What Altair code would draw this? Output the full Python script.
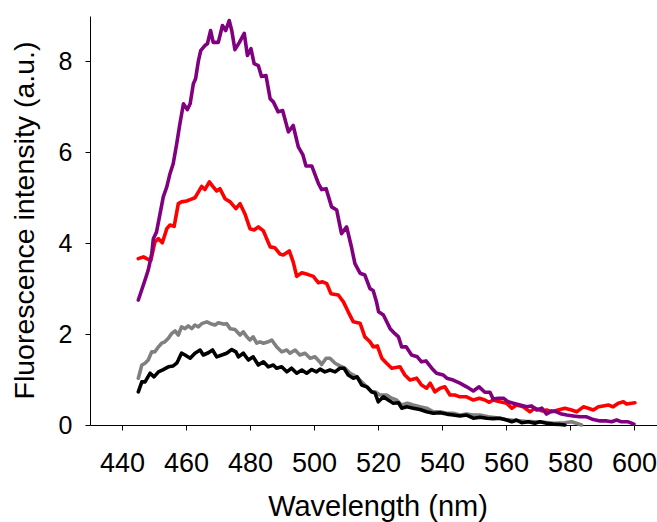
import altair as alt
import pandas as pd

# ---- data (wavelength nm, intensity a.u.) ----
purple_x = [445.1, 447.2, 448.2, 449.3, 449.8, 450.8, 451.9, 452.9, 454.0, 455.0, 456.0, 457.1, 458.1, 459.2,
            460.4, 461.3, 462.3, 463.0, 463.9, 464.6, 465.9, 466.7, 467.7, 468.5, 470.1, 471.4, 472.4, 473.5,
            474.3, 475.3, 476.7, 478.2, 479.2, 480.3, 481.3, 482.6, 483.6, 485.0, 486.3, 487.3, 488.8, 490.2,
            492.0, 493.5, 495.1, 496.5, 497.5, 499.3, 501.4, 502.4, 503.8, 505.5, 507.1, 508.6, 510.2, 511.6,
            512.8, 514.4, 515.9, 517.5, 518.5, 519.5, 520.2, 521.7, 523.8, 525.3, 526.4, 527.4, 528.8, 530.5,
            532.3, 533.6, 535.0, 536.8, 538.3, 540.4, 541.5, 543.5, 545.6, 547.7, 549.8, 551.6, 553.4, 555.0,
            556.0, 557.6, 559.2, 560.7, 562.3, 564.4, 566.5, 568.0, 569.6, 571.2, 572.7, 574.3, 575.8, 577.4,
            579.0, 581.0, 583.1, 585.2, 587.3, 589.4, 591.5, 593.0, 594.6, 596.1, 598.2, 600.0]
purple_y = [2.75, 3.19, 3.41, 3.77, 4.10, 4.25, 4.65, 5.02, 5.24, 5.53, 5.75, 6.19, 6.63, 7.07,
            6.94, 7.07, 7.51, 7.62, 8.02, 8.24, 8.35, 8.39, 8.68, 8.42, 8.42, 8.79, 8.68, 8.90,
            8.68, 8.26, 8.42, 8.62, 8.13, 8.28, 7.95, 7.91, 7.67, 7.69, 7.18, 7.11, 6.89, 6.92,
            6.45, 6.59, 6.12, 5.95, 5.70, 5.70, 5.31, 5.18, 5.20, 4.80, 4.73, 4.21, 4.36, 3.95,
            3.55, 3.34, 3.30, 3.00, 2.96, 2.72, 2.49, 2.42, 2.12, 2.01, 1.94, 1.72, 1.72, 1.54,
            1.50, 1.39, 1.41, 1.25, 1.14, 1.10, 1.03, 0.99, 0.92, 0.84, 0.75, 0.84, 0.72, 0.72,
            0.57, 0.59, 0.59, 0.51, 0.48, 0.44, 0.40, 0.42, 0.33, 0.37, 0.24, 0.31, 0.29, 0.24,
            0.22, 0.20, 0.18, 0.18, 0.12, 0.09, 0.09, 0.07, 0.11, 0.07, 0.07, 0.02]

red_x = [445.1, 446.7, 447.7, 449.0, 450.3, 451.4, 452.6, 454.0, 455.0, 456.3, 457.6, 458.6, 460.2, 461.3,
         462.8, 463.9, 464.9, 465.9, 467.3, 468.5, 469.6, 470.6, 472.2, 473.8, 475.6, 476.9, 478.4, 480.0,
         481.3, 482.6, 484.2, 486.3, 487.8, 489.4, 490.4, 492.3, 493.5, 494.6, 496.2, 498.2, 499.8, 501.4,
         502.7, 504.0, 505.3, 507.6, 509.2, 510.7, 512.3, 514.4, 515.9, 517.5, 518.5, 519.8, 521.2, 522.7,
         524.3, 526.9, 528.4, 530.0, 532.1, 533.6, 535.2, 536.3, 537.8, 539.4, 540.9, 542.5, 544.0, 545.6,
         547.7, 549.8, 551.7, 553.4, 554.8, 556.0, 558.1, 560.2, 561.8, 563.3, 565.4, 567.5, 569.0, 571.2,
         572.7, 574.3, 576.3, 578.4, 580.5, 582.1, 584.2, 585.7, 587.3, 588.9, 590.4, 592.0, 593.5, 595.1,
         596.7, 597.7, 600.3]
red_y = [3.66, 3.70, 3.66, 3.62, 4.03, 4.10, 4.01, 4.32, 4.40, 4.37, 4.87, 4.91, 4.93, 4.96,
         5.00, 5.13, 5.25, 5.18, 5.35, 5.24, 5.15, 5.20, 4.98, 4.91, 4.76, 4.87, 4.65, 4.32,
         4.29, 4.36, 4.27, 3.92, 3.90, 3.76, 3.74, 3.83, 3.59, 3.27, 3.35, 3.31, 3.27, 3.13,
         3.15, 3.11, 2.89, 2.86, 2.71, 2.49, 2.27, 2.24, 1.94, 1.83, 1.72, 1.74, 1.47, 1.36,
         1.25, 1.28, 1.10, 0.99, 1.03, 0.88, 0.81, 0.92, 0.73, 0.81, 0.84, 0.66, 0.66, 0.62,
         0.62, 0.55, 0.59, 0.55, 0.50, 0.55, 0.51, 0.48, 0.37, 0.44, 0.40, 0.29, 0.37, 0.31,
         0.33, 0.29, 0.33, 0.37, 0.33, 0.29, 0.40, 0.37, 0.33, 0.40, 0.42, 0.44, 0.40, 0.48,
         0.51, 0.46, 0.49]

gray_x = [445.1, 446.2, 447.2, 448.2, 449.3, 450.3, 451.4, 452.4, 453.4, 454.5, 455.5, 456.6, 457.6, 458.6,
          459.7, 460.7, 461.8, 462.8, 463.9, 464.9, 466.5, 467.7, 469.1, 470.1, 471.7, 472.7, 473.8, 475.3,
          476.9, 477.9, 479.0, 480.0, 481.0, 482.1, 483.1, 484.2, 485.7, 486.8, 488.3, 489.9, 491.5, 492.5,
          494.1, 495.6, 497.2, 498.8, 500.3, 501.9, 502.4, 503.8, 505.0, 506.6, 508.1, 509.7, 511.3, 513.3,
          514.9, 516.5, 518.0, 519.1, 520.6, 522.7, 524.3, 525.8, 527.4, 529.2, 531.0, 533.1, 535.2, 537.3,
          539.4, 541.5, 543.5, 545.6, 547.7, 549.8, 551.9, 554.5, 557.0, 560.0, 563.0, 566.0, 569.0, 572.0,
          575.0, 578.4, 580.5, 582.0, 583.6]
gray_y = [1.03, 1.32, 1.36, 1.43, 1.61, 1.61, 1.72, 1.80, 1.83, 1.91, 2.01, 2.07, 1.98, 2.16,
          2.12, 2.18, 2.12, 2.20, 2.16, 2.23, 2.27, 2.23, 2.20, 2.25, 2.22, 2.23, 2.12, 2.10,
          1.98, 2.05, 1.94, 1.87, 1.94, 1.80, 1.83, 1.80, 1.83, 1.87, 1.72, 1.61, 1.65, 1.58,
          1.65, 1.54, 1.58, 1.47, 1.50, 1.38, 1.33, 1.47, 1.47, 1.36, 1.30, 1.25, 1.14, 1.06,
          0.95, 0.84, 0.73, 0.73, 0.66, 0.66, 0.59, 0.55, 0.44, 0.48, 0.44, 0.40, 0.37, 0.29,
          0.29, 0.26, 0.26, 0.22, 0.24, 0.22, 0.22, 0.18, 0.16, 0.12, 0.10, 0.08, 0.07, 0.06,
          0.04, 0.05, 0.07, 0.04, 0.00]

black_x = [445.1, 446.2, 447.2, 448.8, 450.0, 451.4, 452.9, 454.5, 456.0, 457.1, 457.6, 458.6, 459.7, 461.3,
           462.8, 464.4, 465.4, 467.0, 468.3, 469.6, 471.2, 472.7, 474.3, 475.6, 476.4, 477.9, 479.5, 481.0,
           482.6, 484.2, 485.7, 487.3, 488.3, 489.9, 491.5, 493.0, 494.6, 496.2, 497.7, 499.3, 500.8, 501.9,
           503.4, 505.0, 506.6, 508.1, 509.4, 510.7, 512.3, 513.5, 514.9, 516.5, 518.0, 519.1, 520.1, 521.7,
           523.2, 524.8, 526.4, 527.4, 529.0, 531.0, 533.1, 535.2, 537.3, 539.4, 541.5, 543.5, 545.6, 547.7,
           549.8, 551.9, 554.0, 556.0, 558.1, 560.2, 561.8, 563.3, 564.9, 567.0, 569.0, 570.6, 572.7, 574.8,
           576.9, 578.4]
black_y = [0.73, 0.95, 0.95, 1.14, 1.06, 1.17, 1.22, 1.28, 1.30, 1.36, 1.43, 1.58, 1.54, 1.47,
           1.58, 1.65, 1.54, 1.59, 1.65, 1.50, 1.54, 1.58, 1.66, 1.61, 1.50, 1.58, 1.43, 1.50,
           1.32, 1.39, 1.28, 1.32, 1.25, 1.28, 1.17, 1.25, 1.14, 1.21, 1.14, 1.22, 1.17, 1.23,
           1.17, 1.21, 1.17, 1.25, 1.25, 1.10, 1.03, 1.06, 0.88, 0.84, 0.73, 0.70, 0.51, 0.62,
           0.55, 0.48, 0.49, 0.37, 0.40, 0.37, 0.34, 0.29, 0.26, 0.27, 0.24, 0.22, 0.20, 0.22,
           0.15, 0.17, 0.15, 0.14, 0.15, 0.11, 0.07, 0.11, 0.05, 0.07, 0.04, 0.07, 0.04, 0.02,
           0.01, 0.00]

x_ticks = [440, 460, 480, 500, 520, 540, 560, 580, 600]
y_ticks = [0, 2, 4, 6, 8]

FONT = "Liberation Sans"

x_enc = alt.X("wl:Q",
              scale=alt.Scale(domain=[430, 607.2], nice=False, zero=False),
              axis=alt.Axis(values=x_ticks, title="Wavelength (nm)", grid=False,
                            labelFontSize=27, labelPadding=20, tickSize=5,
                            titleFontSize=29, titleFontWeight="normal",
                            titleX=287.5, titleY=90, titleBaseline="alphabetic",
                            titleAlign="center"))
y_enc = alt.Y("val:Q",
              scale=alt.Scale(domain=[0, 9], nice=False),
              axis=alt.Axis(values=y_ticks, title="Fluorescence intensity (a.u.)", grid=False,
                            labelFontSize=25, labelPadding=13, tickSize=5,
                            titleFontSize=28.5, titleFontWeight="normal",
                            titleAngle=-90, titleX=-57, titleY=204, titleBaseline="alphabetic",
                            titleAlign="center"))


def layer(xs, ys, color):
    df = pd.DataFrame({"wl": xs, "val": ys})
    return alt.Chart(df).mark_line(color=color, strokeWidth=3.6, strokeJoin="round",
                                   strokeCap="round").encode(x=x_enc, y=y_enc)


chart = alt.layer(
    layer(gray_x, gray_y, "#808080"),
    layer(black_x, black_y, "#000000"),
    layer(red_x, red_y, "#ff0000"),
    layer(purple_x, purple_y, "#800080"),
).properties(
    width=567, height=409,
    autosize=alt.AutoSizeParams(type="none"),
    padding={"left": 90, "top": 16, "right": 0, "bottom": 97},
).configure_view(stroke=None).configure_axis(
    labelFont=FONT, titleFont=FONT, labelColor="black", titleColor="black",
    domainColor="black", tickColor="black", domainWidth=1, tickWidth=1,
)

chart.save("out.html", embed_options={"renderer": "svg", "actions": False})
